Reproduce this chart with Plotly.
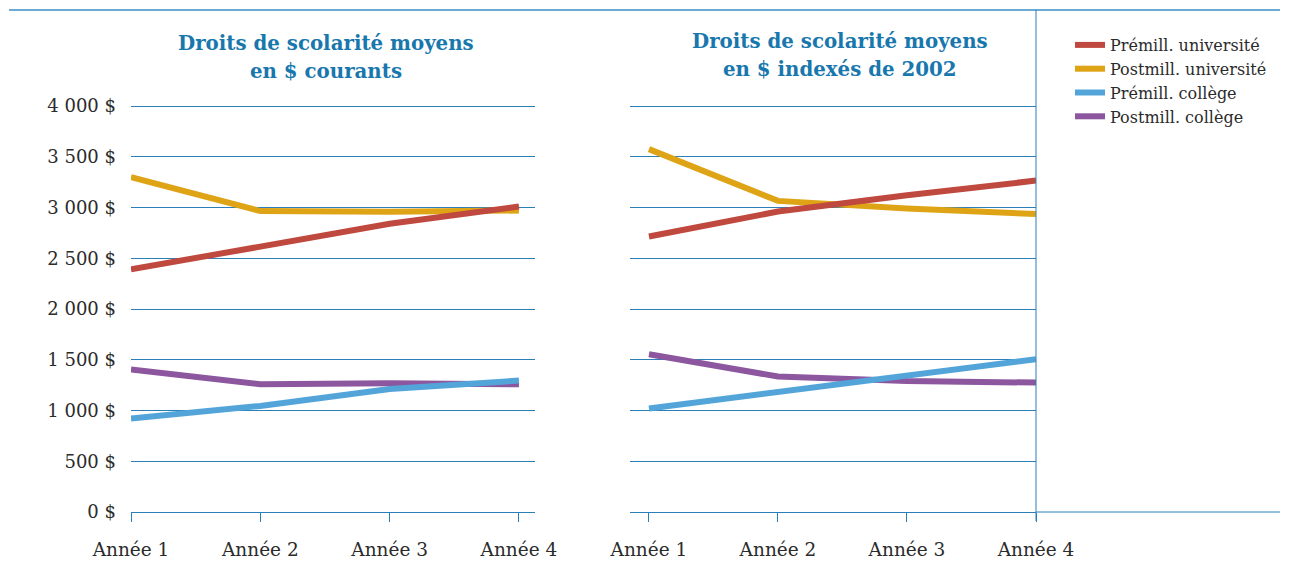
import plotly.graph_objects as go

years = ["Année 1", "Année 2", "Année 3", "Année 4"]
series_names = ["Prémill. université", "Postmill. université", "Prémill. collège", "Postmill. collège"]

# Droits de scolarité moyens en $ courants
cur_premill_univ = [2390, 2620, 2840, 3010]
cur_postmill_univ = [3300, 2965, 2958, 2970]
cur_premill_coll = [920, 1045, 1212, 1295]
cur_postmill_coll = [1405, 1258, 1268, 1258]

# Droits de scolarité moyens en $ indexés de 2002
idx_premill_univ = [2715, 2960, 3120, 3265]
idx_postmill_univ = [3575, 3065, 2990, 2935]
idx_premill_coll = [1020, 1180, 1345, 1505]
idx_postmill_coll = [1555, 1335, 1290, 1275]

y_ticks = [0, 500, 1000, 1500, 2000, 2500, 3000, 3500, 4000]
y_ticktext = ["0 $", "500 $", "1 000 $", "1 500 $", "2 000 $", "2 500 $", "3 000 $", "3 500 $", "4 000 $"]

colors = {
    "Prémill. université": "#c0493f",
    "Postmill. université": "#dea416",
    "Prémill. collège": "#53a5d9",
    "Postmill. collège": "#8c579e",
}
ranks = {n: i + 1 for i, n in enumerate(series_names)}

# page body has an 8px margin: figure placed at (8, 8) in the window
OFF = 8
W, H = 1289 - OFF, 561 - OFF
def px(x):
    return (x - OFF) / W
def py(y):
    return 1 - (y - OFF) / H

BLUE = "#2a7fb8"
TXT = "#2b2b2b"
FONT = "DejaVu Serif"

xpos = list(range(len(years)))

fig = go.Figure()

panels = [
    ("x", "y", {
        "Postmill. université": cur_postmill_univ,
        "Prémill. université": cur_premill_univ,
        "Postmill. collège": cur_postmill_coll,
        "Prémill. collège": cur_premill_coll,
    }, True),
    ("x2", "y2", {
        "Postmill. université": idx_postmill_univ,
        "Prémill. université": idx_premill_univ,
        "Postmill. collège": idx_postmill_coll,
        "Prémill. collège": idx_premill_coll,
    }, False),
]

for xa, ya, data, show in panels:
    for name, vals in data.items():
        fig.add_trace(go.Scatter(
            x=xpos, y=vals, mode="lines", name=name,
            line=dict(color=colors[name], width=6),
            xaxis=xa, yaxis=ya, showlegend=show, legendrank=ranks[name],
            hoverinfo="x+y+name",
        ))

YMAX = 4020
ydom = [py(512), py(512 - 406 * YMAX / 4000)]
common_x = dict(
    tickmode="array", tickvals=xpos, ticktext=years,
    ticks="outside", ticklen=9, tickcolor=BLUE, tickwidth=1,
    showline=True, linecolor=BLUE, linewidth=1, showgrid=False, zeroline=False,
    tickfont=dict(family=FONT, size=18.5, color=TXT), ticklabelstandoff=12,
    fixedrange=True, automargin=False,
)
common_y = dict(
    range=[0, YMAX], tickmode="array", tickvals=y_ticks, ticktext=y_ticktext,
    showgrid=True, gridcolor=BLUE, gridwidth=1, zeroline=False, showline=False,
    domain=ydom, fixedrange=True, automargin=False,
)

fig.update_layout(
    width=W, height=H, autosize=False,
    margin=dict(l=0, r=0, t=0, b=0, pad=0),
    paper_bgcolor="white", plot_bgcolor="white",
    xaxis=dict(domain=[px(131), px(535)], range=[0, 3.124], anchor="y", **common_x),
    yaxis=dict(anchor="x", ticks="", tickfont=dict(family=FONT, size=18, color=TXT),
               ticklabelstandoff=14, **common_y),
    xaxis2=dict(domain=[px(630), px(1036)], range=[-0.147, 3], anchor="y2", **common_x),
    yaxis2=dict(anchor="x2", showticklabels=False, ticks="", **common_y),
    showlegend=True,
    legend=dict(
        x=px(1070), y=py(28), xanchor="left", yanchor="top",
        font=dict(family=FONT, size=16, color=TXT),
        bgcolor="rgba(0,0,0,0)", borderwidth=0, tracegroupgap=0,
        itemwidth=30,
    ),
    font=dict(family=FONT),
)

# decorative frame lines
fig.add_shape(type="line", xref="paper", yref="paper", x0=px(9), x1=px(1280), y0=py(10), y1=py(10),
              line=dict(color="#3a8fc4", width=1.5))
fig.add_shape(type="line", xref="paper", yref="paper", x0=px(1036), x1=px(1036), y0=py(10), y1=py(521),
              line=dict(color=BLUE, width=1))
fig.add_shape(type="line", xref="paper", yref="paper", x0=px(1036), x1=px(1280), y0=py(512), y1=py(512),
              line=dict(color=BLUE, width=1))

TITLE_C = "#1877ad"
titles = [
    (326, 43, "Droits de scolarité moyens"),
    (326, 71, "en $ courants"),
    (840, 41, "Droits de scolarité moyens"),
    (840, 69, "en $ indexés de 2002"),
]
for x, y, t in titles:
    fig.add_annotation(x=px(x), y=py(y), xref="paper", yref="paper", text="<b>%s</b>" % t,
                       showarrow=False, xanchor="center", yanchor="middle",
                       font=dict(family=FONT, size=19.8, color=TITLE_C))

fig.write_html("out.html")
